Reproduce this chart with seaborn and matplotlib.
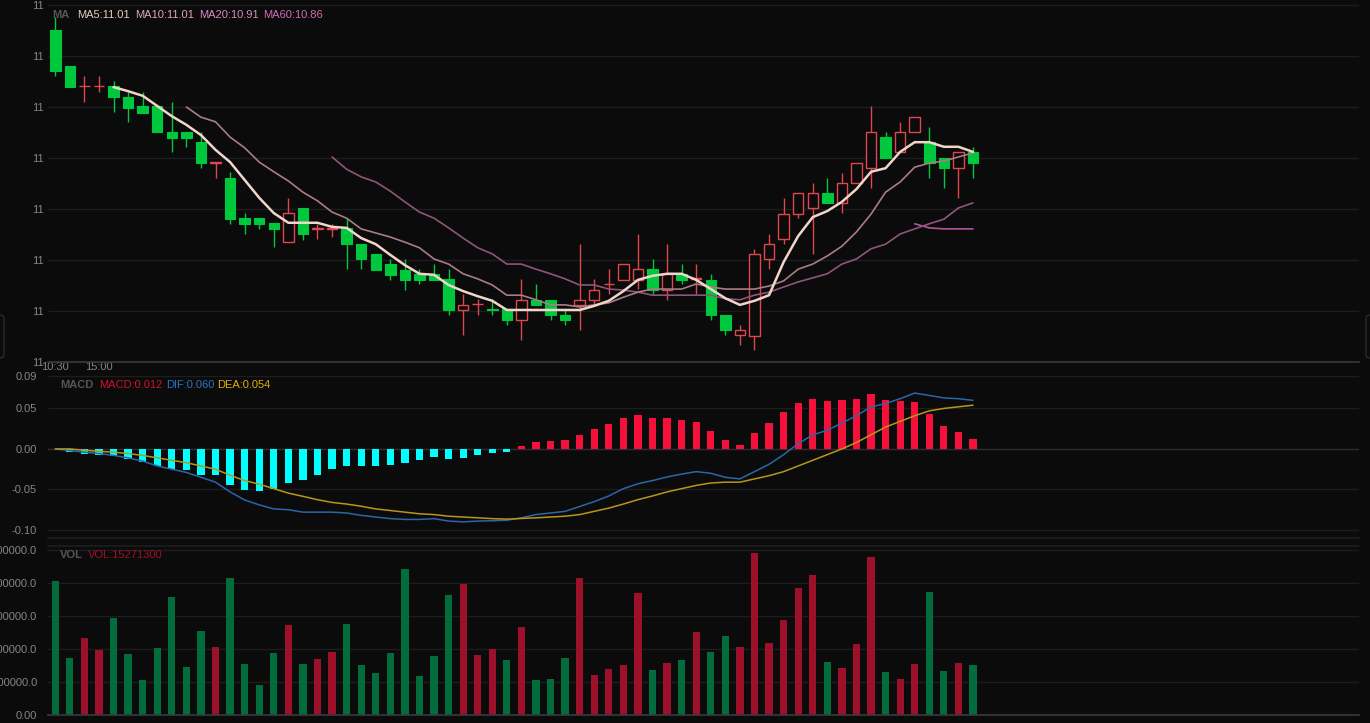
import numpy as np
import seaborn as sns
import matplotlib
matplotlib.use("Agg")
import matplotlib.pyplot as plt
from matplotlib.ticker import FuncFormatter
from matplotlib.patches import FancyBboxPatch

# ---- data ----
opens = [11.250, 11.181, 11.141, 11.141, 11.141, 11.120, 11.101, 11.101, 11.051, 11.051,
         11.031, 10.991, 10.961, 10.882, 10.882, 10.872, 10.835, 10.901, 10.861, 10.861,
         10.862, 10.832, 10.812, 10.792, 10.781, 10.773, 10.773, 10.762, 10.702, 10.713,
         10.704, 10.703, 10.682, 10.722, 10.722, 10.693, 10.712, 10.722, 10.753, 10.761,
         10.761, 10.782, 10.741, 10.773, 10.763, 10.761, 10.692, 10.653, 10.651, 10.802,
         10.841, 10.890, 10.901, 10.931, 10.911, 10.951, 10.980, 11.041, 11.011, 11.050,
         11.031, 11.000, 10.980, 11.011]
highs = [11.276, 11.181, 11.160, 11.160, 11.150, 11.129, 11.130, 11.101, 11.110, 11.051,
         11.050, 10.991, 10.972, 10.892, 10.882, 10.872, 10.921, 10.901, 10.871, 10.871,
         10.882, 10.832, 10.812, 10.802, 10.802, 10.782, 10.792, 10.782, 10.733, 10.723,
         10.723, 10.703, 10.763, 10.753, 10.722, 10.703, 10.831, 10.763, 10.782, 10.792,
         10.851, 10.801, 10.831, 10.792, 10.792, 10.773, 10.692, 10.673, 10.822, 10.851,
         10.921, 10.931, 10.950, 10.961, 10.971, 10.990, 11.101, 11.050, 11.070, 11.080,
         11.060, 11.000, 11.011, 11.021]
lows = [11.161, 11.139, 11.110, 11.130, 11.090, 11.070, 11.089, 11.050, 11.011, 11.021,
        10.980, 10.960, 10.871, 10.851, 10.861, 10.825, 10.835, 10.839, 10.841, 10.845,
        10.782, 10.782, 10.781, 10.761, 10.742, 10.752, 10.761, 10.693, 10.653, 10.693,
        10.693, 10.673, 10.643, 10.712, 10.682, 10.673, 10.663, 10.712, 10.733, 10.761,
        10.743, 10.733, 10.722, 10.753, 10.733, 10.683, 10.653, 10.633, 10.624, 10.782,
        10.831, 10.882, 10.812, 10.911, 10.892, 10.951, 10.941, 11.000, 11.011, 11.050,
        10.961, 10.941, 10.922, 10.961]
closes = [11.170, 11.139, 11.141, 11.141, 11.119, 11.099, 11.089, 11.050, 11.040, 11.040,
          10.990, 10.991, 10.880, 10.871, 10.871, 10.861, 10.892, 10.851, 10.861, 10.861,
          10.831, 10.801, 10.781, 10.771, 10.761, 10.761, 10.761, 10.702, 10.712, 10.713,
          10.702, 10.682, 10.722, 10.712, 10.692, 10.682, 10.722, 10.742, 10.753, 10.792,
          10.782, 10.741, 10.773, 10.761, 10.763, 10.692, 10.663, 10.663, 10.812, 10.831,
          10.890, 10.931, 10.931, 10.911, 10.950, 10.990, 11.050, 11.000, 11.050, 11.080,
          10.990, 10.980, 11.011, 10.990]

ma5 = [None] * 4 + [
    11.139, 11.131, 11.122, 11.102, 11.082, 11.065, 11.045, 11.016, 10.992, 10.957,
    10.922, 10.892, 10.873, 10.873, 10.873, 10.865, 10.863, 10.843, 10.831, 10.810,
    10.790, 10.773, 10.771, 10.751, 10.739, 10.729, 10.720, 10.702, 10.702, 10.702,
    10.702, 10.702, 10.702, 10.710, 10.720, 10.739, 10.761, 10.769, 10.773, 10.773,
    10.761, 10.743, 10.725, 10.712, 10.720, 10.731, 10.796, 10.847, 10.884, 10.896,
    10.914, 10.939, 10.973, 10.980, 11.012, 11.031, 11.031, 11.022, 11.022, 11.012]
ma10 = [None] * 9 + [
    11.100, 11.080, 11.071, 11.041, 11.020, 10.992, 10.973, 10.955, 10.933, 10.916,
    10.894, 10.882, 10.861, 10.853, 10.845, 10.835, 10.824, 10.802, 10.792, 10.773,
    10.763, 10.751, 10.731, 10.731, 10.722, 10.712, 10.712, 10.708, 10.712, 10.716,
    10.727, 10.737, 10.743, 10.743, 10.743, 10.753, 10.747, 10.743, 10.743, 10.743,
    10.749, 10.759, 10.782, 10.792, 10.808, 10.827, 10.855, 10.890, 10.933, 10.953,
    10.982, 10.990, 10.994, 11.002, 11.010]
ma20 = [None] * 19 + [
    11.002, 10.978, 10.963, 10.953, 10.935, 10.914, 10.894, 10.882, 10.863, 10.843,
    10.824, 10.812, 10.792, 10.792, 10.782, 10.773, 10.763, 10.751, 10.751, 10.743,
    10.741, 10.737, 10.731, 10.731, 10.731, 10.731, 10.731, 10.724, 10.722, 10.731,
    10.737, 10.747, 10.757, 10.765, 10.773, 10.792, 10.802, 10.822, 10.831, 10.851,
    10.861, 10.871, 10.880, 10.902, 10.912]
ma60 = [None] * 59 + [10.871, 10.863, 10.861, 10.861, 10.861]

volumes = [40700000, 17300000, 23300000, 19600000, 29300000, 18500000, 10600000, 20200000,
           35700000, 14600000, 25500000, 20600000, 41400000, 15400000, 9100000, 18900000,
           27300000, 15500000, 16900000, 19000000, 27500000, 15100000, 12700000, 18700000,
           44200000, 11700000, 17800000, 36300000, 39800000, 18100000, 19900000, 16700000,
           26600000, 10500000, 11000000, 17400000, 41600000, 12200000, 13800000, 15100000,
           37000000, 13500000, 15800000, 16800000, 25100000, 19200000, 23900000, 20700000,
           49100000, 21900000, 28800000, 38600000, 42400000, 16100000, 14200000, 21500000,
           48000000, 13100000, 10800000, 15500000, 37400000, 13200000, 15700000, 15271300]
vol_dir = list("ggrrggggggg" "rgggg" "rg" "rr" "gggggggg" "rrr" "g" "r" "ggg" "rrrrr"
               "g" "r" "g" "r" "gg" "rrrrrr" "g" "rrr" "g" "rr" "gg" "r" "g")

macd_hist = [0.0, -0.0037, -0.0057, -0.0069, -0.0089, -0.0130, -0.0159, -0.0215, -0.0252, -0.0260,
             -0.0317, -0.0325, -0.0451, -0.0512, -0.0520, -0.0496, -0.0415, -0.0378, -0.0317, -0.0244,
             -0.0215, -0.0215, -0.0211, -0.0195, -0.0175, -0.0142, -0.0098, -0.0126, -0.0110, -0.0077,
             -0.0049, -0.0037, 0.0033, 0.0085, 0.0102, 0.0106, 0.0171, 0.0244, 0.0305, 0.0386,
             0.0419, 0.0378, 0.0378, 0.0362, 0.0337, 0.0224, 0.0114, 0.0045, 0.0195, 0.0317,
             0.0451, 0.0573, 0.0622, 0.0593, 0.0598, 0.0622, 0.0679, 0.0610, 0.0593, 0.0585,
             0.0431, 0.0289, 0.0211, 0.0118]
dif = [0.000, -0.002, -0.004, -0.0057, -0.008, -0.011, -0.015, -0.021, -0.025, -0.029,
       -0.035, -0.041, -0.053, -0.063, -0.069, -0.074, -0.075, -0.078, -0.078, -0.078,
       -0.079, -0.082, -0.084, -0.086, -0.087, -0.087, -0.086, -0.089, -0.090, -0.089,
       -0.0886, -0.088, -0.085, -0.081, -0.079, -0.077, -0.071, -0.065, -0.058, -0.049,
       -0.043, -0.039, -0.0346, -0.031, -0.028, -0.030, -0.035, -0.037, -0.028, -0.019,
       -0.007, 0.0065, 0.0175, 0.023, 0.032, 0.041, 0.052, 0.056, 0.062, 0.069,
       0.066, 0.063, 0.062, 0.060]
dea = [0.000, 0.000, -0.0016, -0.003, -0.004, -0.0057, -0.008, -0.011, -0.014, -0.017,
       -0.021, -0.025, -0.0325, -0.039, -0.0435, -0.049, -0.0545, -0.0585, -0.0626, -0.066,
       -0.068, -0.0707, -0.074, -0.076, -0.078, -0.080, -0.081, -0.083, -0.084, -0.085,
       -0.086, -0.0866, -0.0858, -0.085, -0.084, -0.083, -0.081, -0.077, -0.073, -0.068,
       -0.0626, -0.058, -0.053, -0.049, -0.045, -0.042, -0.041, -0.041, -0.037, -0.033,
       -0.028, -0.021, -0.014, -0.007, 0.000, 0.008, 0.0175, 0.027, 0.034, 0.041,
       0.047, 0.050, 0.052, 0.054]

time_labels = ["10:30", "15:00"]
time_ticks = [0, 3]
price_ticks = [10.6, 10.7, 10.8, 10.9, 11.0, 11.1, 11.2, 11.3]
macd_ticks = [0.09, 0.05, 0.0, -0.05, -0.10]
macd_tick_labels = ["0.09", "0.05", "0.00", "-0.05", "-0.10"]
vol_ticks = [0, 10000000, 20000000, 30000000, 40000000, 50000000]

# ---- style ----
BG = "#0b0b0c"
GRID = "#1d1d20"
AXLINE = "#38383c"
TICK = "#85858a"
UP = "#e0474c"
DOWN = "#00c83c"

sns.set_theme(style="dark", rc={"axes.facecolor": BG, "figure.facecolor": BG,
                                "axes.edgecolor": BG, "text.color": TICK,
                                "xtick.color": TICK, "ytick.color": TICK})
plt.rcParams["font.family"] = ["Liberation Sans", "DejaVu Sans"]

W, H = 1370, 723
fig = plt.figure(figsize=(W / 100, H / 100), dpi=100)
fig.patch.set_facecolor(BG)


def px_axes(left, top, right, bottom):
    return fig.add_axes([left / W, 1 - bottom / H, (right - left) / W, (bottom - top) / H])


def ftext(x, y, s, color, bold=False, size=8):
    fig.text(x / W, 1 - y / H, s, color=color, fontsize=size, va="center", ha="left",
             fontweight="bold" if bold else "normal")


idx = np.arange(len(closes))
XLIM = (-0.5, 89.5)

ax_v = px_axes(48, 546, 1359, 715)
ax_m = px_axes(48, 365, 1359, 538)
ax_p = px_axes(48, 0, 1359, 362)

for ax in (ax_p, ax_m, ax_v):
    ax.patch.set_visible(False)
    for s in ax.spines.values():
        s.set_visible(False)
    ax.tick_params(axis="both", length=0, labelsize=8, colors=TICK)

# ---- price panel: candles + MAs ----
for i in idx:
    o, h, l, c = opens[i], highs[i], lows[i], closes[i]
    lo_b, hi_b = min(o, c), max(o, c)
    body = max(hi_b - lo_b, 0.0008)
    if c >= o:
        ax_p.vlines(i, hi_b, h, color=UP, lw=1, zorder=2)
        ax_p.vlines(i, l, lo_b, color=UP, lw=1, zorder=2)
        ax_p.bar(i, body, bottom=lo_b, width=0.72, facecolor=BG, edgecolor=UP,
                 linewidth=1, zorder=3)
    else:
        ax_p.vlines(i, l, h, color=DOWN, lw=1, zorder=2)
        ax_p.bar(i, body, bottom=lo_b, width=0.72, facecolor=DOWN, edgecolor=DOWN,
                 linewidth=0.8, zorder=3)

ma_styles = [(ma60, "#b0559a", 1.2), (ma20, "#8e5578", 1.2),
             (ma10, "#a97c86", 1.2), (ma5, "#efd6c8", 1.8)]
for vals, col, lw in ma_styles:
    sns.lineplot(x=idx, y=np.array(vals, dtype=float), ax=ax_p, color=col,
                 linewidth=lw, zorder=4, legend=False)

ax_p.set_xlim(*XLIM)
ax_p.set_ylim(10.6, 11.3098)
ax_p.set_yticks(price_ticks)
ax_p.yaxis.set_major_formatter(FuncFormatter(lambda v, p: f"{v:.0f}"))
ax_p.tick_params(axis="y", pad=3)
ax_p.set_xticks(time_ticks)
ax_p.set_xticklabels(time_labels)
ax_p.tick_params(axis="x", pad=0)
ax_p.grid(axis="y", color=GRID, lw=1)
ax_p.grid(axis="x", visible=False)
ax_p.spines["bottom"].set_visible(True)
ax_p.spines["bottom"].set_color(AXLINE)
ax_p.set_xlabel("")
ax_p.set_ylabel("")

# ---- MACD panel ----
macd_sign = ["up" if v > 0 else "down" for v in macd_hist]
sns.barplot(x=idx, y=macd_hist, hue=macd_sign, palette={"up": "#f5103c", "down": "#00ffff"},
            dodge=False, width=0.5, saturation=1, linewidth=0, legend=False, ax=ax_m, zorder=2)
sns.lineplot(x=idx, y=dif, ax=ax_m, color="#2a66a8", linewidth=1.1, zorder=3, legend=False)
sns.lineplot(x=idx, y=dea, ax=ax_m, color="#b8961a", linewidth=1.1, zorder=3, legend=False)
ax_m.set_xlim(*XLIM)
ax_m.set_ylim(-0.1099, 0.1036)
ax_m.set_yticks(macd_ticks)
ax_m.set_yticklabels(macd_tick_labels)
ax_m.tick_params(axis="y", pad=8)
ax_m.set_xticks([])
ax_m.grid(axis="y", color=GRID, lw=1)
ax_m.axhline(0, color="#2c2c30", lw=1, zorder=1)
ax_m.spines["bottom"].set_visible(True)
ax_m.spines["bottom"].set_color(GRID)
ax_m.set_xlabel("")
ax_m.set_ylabel("")

# ---- volume panel ----
sns.barplot(x=idx, y=volumes, hue=vol_dir, palette={"r": "#9c1029", "g": "#036c3d"},
            dodge=False, width=0.5, saturation=1, linewidth=0, legend=False, ax=ax_v, zorder=2)
ax_v.set_xlim(*XLIM)
ax_v.set_ylim(0, 51200000)
ax_v.set_yticks(vol_ticks)
ax_v.yaxis.set_major_formatter(FuncFormatter(lambda v, p: "0.00" if v == 0 else f"{v:.1f}"))
ax_v.tick_params(axis="y", pad=8)
ax_v.set_xticks([])
ax_v.grid(axis="y", color=GRID, lw=1)
ax_v.spines["bottom"].set_visible(True)
ax_v.spines["bottom"].set_color(AXLINE)
ax_v.spines["top"].set_visible(True)
ax_v.spines["top"].set_color(GRID)
ax_v.set_xlabel("")
ax_v.set_ylabel("")

# ---- legends ----
ftext(52, 15, "MA", "#55555a", bold=True)
ftext(77, 15, "MA5:11.01", "#e8cdbd")
ftext(135, 15, "MA10:11.01", "#e2a6b6")
ftext(199, 15, "MA20:10.91", "#d78cc0")
ftext(263, 15, "MA60:10.86", "#d46cb5")

ftext(60, 385, "MACD", "#55555a", bold=True)
ftext(99, 385, "MACD:0.012", "#d0102e")
ftext(166, 385, "DIF:0.060", "#2f72c0")
ftext(217, 385, "DEA:0.054", "#e0b000")

ftext(60, 555, "VOL", "#55555a", bold=True)
ftext(88, 555, "VOL:15271300", "#a01028")

# small side handles
for x0 in (-20, 1366):
    fig.patches.append(FancyBboxPatch((x0 / W, 1 - 358 / H), 24 / W, 43 / H,
                                      boxstyle="round,pad=0,rounding_size=0.004",
                                      transform=fig.transFigure, facecolor=BG,
                                      edgecolor="#2a2a2e", lw=1))

fig.savefig("out.png", dpi=100, facecolor=BG)
plt.close(fig)
